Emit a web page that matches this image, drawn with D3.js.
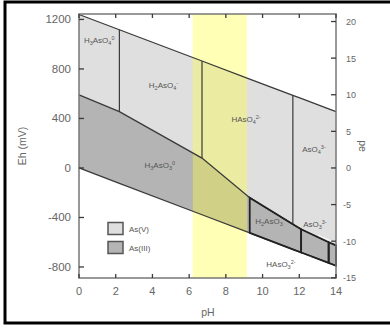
<!DOCTYPE html>
<html><head><meta charset="utf-8">
<script src="https://cdn.jsdelivr.net/npm/d3@7"></script>
<style>body{margin:0;background:#fff}svg{display:block;font-family:Arial,"Liberation Sans",sans-serif}</style>
</head><body><svg id="c" width="390" height="329"></svg>
<script>
// ---- data ----
const phTicks = [0,2,4,6,8,10,12,14];
const ehTicks = [-800,-400,0,400,800,1200];
const peTicks = [-15,-10,-5,0,5,10,15,20];
const upperWaterPH = [0,14];
const upperWaterEh = [1240,455];
const lowerWaterPH = [0,14];
const lowerWaterEh = [0,-790];
const asBoundaryPH = [0,2.2,6.7,9.3,11.65,12.1,13.6,14];
const asBoundaryEh = [590,455,80,-240,-455,-495,-600,-625];
const asVDividers = [2.2,6.7,11.65];
const asIIIDividers = [9.3,12.1,13.6];
const yellowBand = [6.2,9.15];
const speciesLabels = [
  {parts:[["H"],["3","sub"],["AsO"],["4","sub"],["0","sup"]], ph:1.1, eh:1010},
  {parts:[["H"],["2","sub"],["AsO"],["4","sub"],["-","sup"]], ph:4.6, eh:650},
  {parts:[["HAsO"],["4","sub"],["2-","sup"]], ph:9.1, eh:370},
  {parts:[["AsO"],["4","sub"],["3-","sup"]], ph:12.8, eh:130},
  {parts:[["H"],["3","sub"],["AsO"],["3","sub"],["0","sup"]], ph:4.4, eh:0},
  {parts:[["H"],["2","sub"],["AsO"],["3","sub"],["-","sup"]], ph:10.4, eh:-450},
  {parts:[["AsO"],["3","sub"],["3-","sup"]], ph:12.85, eh:-480},
  {parts:[["HAsO"],["3","sub"],["2-","sup"]], ph:11.0, eh:-800}
];
const legendItems = ["As(V)","As(III)"];

// ---- scales ----
const svg = d3.select("#c");
const x = d3.scaleLinear().domain([0,14]).range([79,336]);
const y = d3.scaleLinear().domain([-889,1244]).range([278,14]);
const yPe = d3.scaleLinear().domain([-889/59.16,1244/59.16]).range([278,14]);
const interp = (phs, ehs) => d3.scaleLinear().domain(phs).range(ehs);
const up = interp(upperWaterPH, upperWaterEh);
const lo = interp(lowerWaterPH, lowerWaterEh);
const asb = interp(asBoundaryPH, asBoundaryEh);
const grid = Array.from(new Set([...asBoundaryPH, ...upperWaterPH, ...lowerWaterPH])).sort((a,b)=>a-b);

const light = "#dfdfdf", dark = "#b4b4b4";
// As(V) region
svg.append("path").datum(grid)
  .attr("d", d3.area().x(d=>x(d)).y0(d=>y(asb(d))).y1(d=>y(up(d))))
  .attr("fill", light);
// As(III) region
svg.append("path").datum(grid)
  .attr("d", d3.area().x(d=>x(d)).y0(d=>y(lo(d))).y1(d=>y(asb(d))))
  .attr("fill", dark);

// yellow band
svg.append("rect").attr("x", x(yellowBand[0])).attr("y", y.range()[1])
  .attr("width", x(yellowBand[1])-x(yellowBand[0])).attr("height", y.range()[0]-y.range()[1])
  .attr("fill", "rgb(255,255,60)").attr("opacity", 0.38);

// boundary lines
const line = (f) => d3.line().x(d=>x(d)).y(d=>y(f(d)));
const lc = "#3a3a3a";
svg.append("path").datum(grid).attr("d", line(up)).attr("fill","none").attr("stroke",lc).attr("stroke-width",1.3);
svg.append("path").datum(grid).attr("d", line(asb)).attr("fill","none").attr("stroke",lc).attr("stroke-width",1.3);
svg.append("path").datum(grid).attr("d", line(lo)).attr("fill","none").attr("stroke",lc).attr("stroke-width",1.3);
asVDividers.forEach(p => svg.append("line").attr("x1",x(p)).attr("x2",x(p))
  .attr("y1",y(up(p))).attr("y2",y(asb(p))).attr("stroke",lc).attr("stroke-width",1.2));
// As(III) species boxes beyond first divider, thick outline
const iiiEdges = [...asIIIDividers, 14];
for (let i=0;i<iiiEdges.length-1;i++){
  const a = iiiEdges[i], b = iiiEdges[i+1];
  const pts = grid.filter(d=>d>a && d<b);
  const top = [a, ...pts, b].map(d=>[x(d), y(asb(d))]);
  const bot = [b, ...pts.slice().reverse(), a].map(d=>[x(d), y(lo(d))]);
  svg.append("path").attr("d", d3.line()([...top, ...bot]) + "Z")
    .attr("fill","none").attr("stroke","#222").attr("stroke-width",1.8);
}

// axes
const ac = "#777";
const gAx = svg.append("g");
gAx.append("rect").attr("x",x(0)).attr("y",y.range()[1]).attr("width",x(14)-x(0))
  .attr("height",y.range()[0]-y.range()[1]).attr("fill","none").attr("stroke",ac).attr("stroke-width",1.5);
const tc = "#666";
phTicks.forEach(t=>{
  gAx.append("line").attr("x1",x(t)).attr("x2",x(t)).attr("y1",278).attr("y2",274).attr("stroke",lc).attr("stroke-width",1.3);
  gAx.append("line").attr("x1",x(t)).attr("x2",x(t)).attr("y1",14).attr("y2",18).attr("stroke",lc).attr("stroke-width",1.3);
  gAx.append("text").attr("x",x(t)).attr("y",295).attr("text-anchor","middle")
    .attr("font-size",11).attr("fill",tc).text(t);
});
ehTicks.forEach(t=>{
  gAx.append("line").attr("x1",79).attr("x2",84).attr("y1",y(t)).attr("y2",y(t)).attr("stroke",lc).attr("stroke-width",1.3);
  gAx.append("text").attr("x",71).attr("y",y(t)+4).attr("text-anchor","end")
    .attr("font-size",11.5).attr("fill",tc).text(t);
});
peTicks.forEach(t=>{
  gAx.append("line").attr("x1",336).attr("x2",331).attr("y1",yPe(t)).attr("y2",yPe(t)).attr("stroke",lc).attr("stroke-width",1.3);
  gAx.append("text").attr("x", t<0 ? 343 : 346).attr("y",yPe(t)+3.5)
    .attr("font-size",9).attr("fill",tc).text(t);
});
svg.append("text").attr("transform","translate(26,146) rotate(-90)").attr("text-anchor","middle")
  .attr("font-size",10.5).attr("fill",tc).text("Eh (mV)");
svg.append("text").attr("transform","translate(359,146) rotate(90)").attr("text-anchor","middle")
  .attr("font-size",10.5).attr("fill",tc).text("pe");
svg.append("text").attr("x",208).attr("y",316).attr("text-anchor","middle")
  .attr("font-size",10.5).attr("fill",tc).text("pH");

// species labels
speciesLabels.forEach(l=>{
  const t = svg.append("text").attr("x",x(l.ph)).attr("y",y(l.eh)).attr("text-anchor","middle")
    .attr("font-size",8).attr("fill","#555");
  l.parts.forEach(p=>{
    const s = t.append("tspan").text(p[0]);
    if (p[1]==="sub") s.attr("font-size",5.5).attr("baseline-shift","-25%");
    if (p[1]==="sup") s.attr("font-size",5.5).attr("baseline-shift","45%");
  });
});
// leader lines
svg.append("line").attr("x1",x(13.05)).attr("y1",y(-545)).attr("x2",x(13.75)).attr("y2",y(-590))
  .attr("stroke","#fff").attr("stroke-width",1);
svg.append("line").attr("x1",x(12.0)).attr("y1",y(-760)).attr("x2",x(12.6)).attr("y2",y(-720))
  .attr("stroke","#fff").attr("stroke-width",1);

// legend
legendItems.forEach((n,i)=>{
  svg.append("rect").attr("x",108).attr("y",222.5+i*19).attr("width",15).attr("height",12)
    .attr("fill", i===0?light:dark).attr("stroke","#555").attr("stroke-width",1.5);
  svg.append("text").attr("x",129).attr("y",232+i*19).attr("font-size",8).attr("fill","#555").text(n);
});

// outer frame
svg.append("rect").attr("x",5).attr("y",2).attr("width",400).attr("height",321)
  .attr("fill","none").attr("stroke","#000").attr("stroke-width",3);
</script></body></html>
